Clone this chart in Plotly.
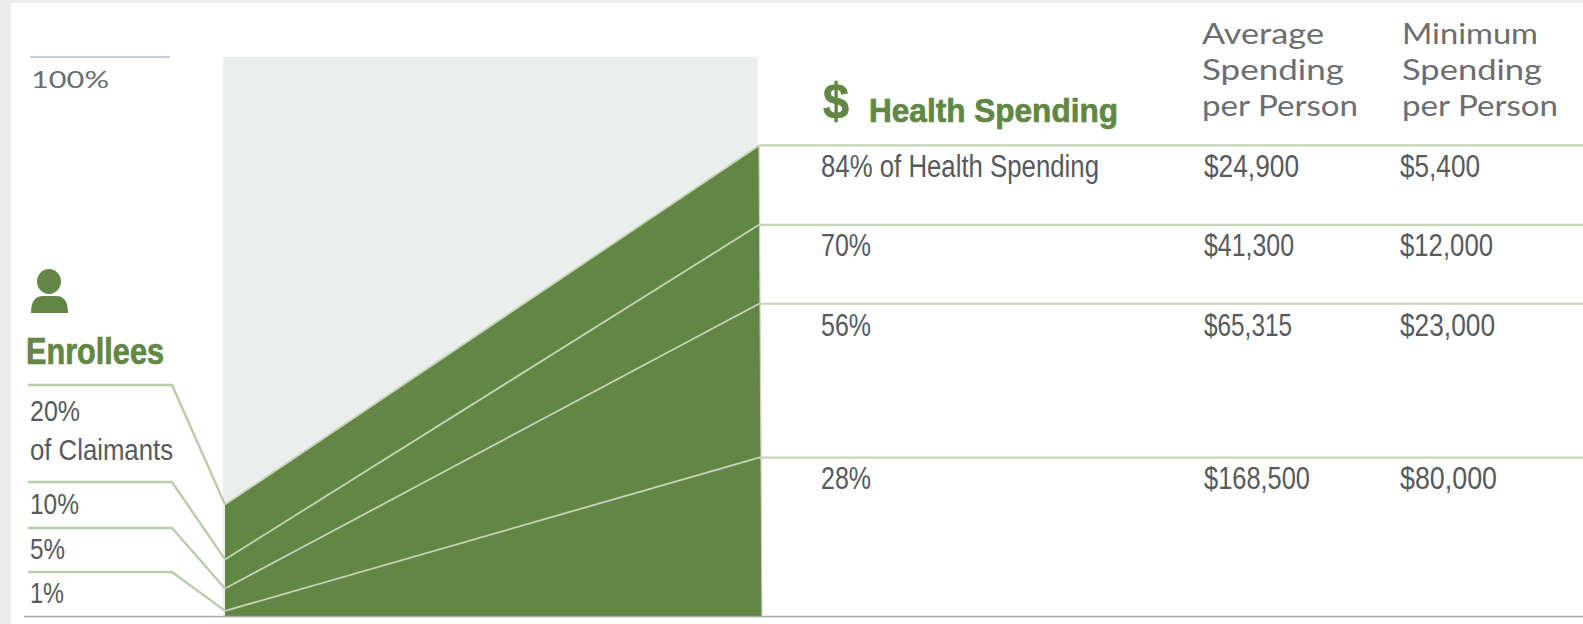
import json
import plotly.graph_objects as go

W, H = 1583, 624
enrollee_pct = [1, 5, 10.2, 20]
spending_pct = [28.4, 55.9, 70, 84.2]
row_labels = ["28%", "56%", "70%", "84% of Health Spending"]
avg_spending = ["$168,500", "$65,315", "$41,300", "$24,900"]
min_spending = ["$80,000", "$23,000", "$12,000", "$5,400"]
enrollee_labels = ["1%", "5%", "10%", "20%"]

Y0, Y100 = 616.5, 57.0
LEFT, RIGHT, RIGHT_B = 225, 759, 762
GREEN, LEAD, SEP, GREY_T, DARK = "#628744", "#b9cdaa", "#c6d4ba", "#6b6d70", "#58595b"
BODY = "Liberation Sans, sans-serif"
WIDE = "Lato, sans-serif"

def v(py):
    return (Y0 - py) / (Y0 - Y100) * 100

fig = go.Figure()
fig.add_trace(go.Scatter(x=[223, 758, 758, 223], y=[0, 0, 100, 100], fill="toself", mode="none",
                         fillcolor="#eceeee", hoverinfo="skip"))
fig.add_trace(go.Scatter(x=[LEFT, LEFT, RIGHT, RIGHT_B], y=[0, enrollee_pct[-1], spending_pct[-1], 0], fill="toself",
                         mode="none", fillcolor=GREEN, hoverinfo="skip"))
for e, s in zip(enrollee_pct, spending_pct):
    fig.add_trace(go.Scatter(x=[LEFT, RIGHT], y=[e, s], mode="lines", line=dict(color=SEP, width=1.8), hoverinfo="skip"))
    fig.add_trace(go.Scatter(x=[RIGHT, W], y=[s, s], mode="lines", line=dict(color=SEP, width=2.2), hoverinfo="skip"))
fig.add_trace(go.Scatter(x=[RIGHT, RIGHT_B], y=[spending_pct[-1], 0], mode="lines", line=dict(color=SEP, width=1.2), hoverinfo="skip"))
lead_y = [572, 528, 482, 385]
for e, ly in zip(enrollee_pct, lead_y):
    fig.add_trace(go.Scatter(x=[28, 172, LEFT], y=[v(ly), v(ly), e], mode="lines", line=dict(color=LEAD, width=2.4), hoverinfo="skip"))
fig.add_trace(go.Scatter(x=[24, W], y=[0, 0], mode="lines", line=dict(color="#a6a8a8", width=1.6), hoverinfo="skip"))
fig.add_trace(go.Scatter(x=[30, 170], y=[100, 100], mode="lines", line=dict(color="#b4b9d0", width=1.5), hoverinfo="skip"))

text_widths = []
heavy = []
def txt(x, py, s, font, size, color, w, bold=False):
    text_widths.append(w)
    heavy.append(bold)
    fig.add_annotation(x=x / W, y=1 - py / H, xref="paper", yref="paper", text=s, showarrow=False,
                       xanchor="left", yanchor="middle",
                       font=dict(family=font, size=size, color=color, weight="bold" if bold else "normal"))

txt(29, 79, "100%", WIDE, 23, GREY_T, 78)
txt(24, 351, "Enrollees", BODY, 36, GREEN, 138, True)
txt(28, 410, "20%", BODY, 30, DARK, 50)
txt(28, 449, "of Claimants", BODY, 30, DARK, 143)
for s, py, w in zip(enrollee_labels[:3], [592, 548, 503], [34, 35, 49]):
    txt(28, py, s, BODY, 30, DARK, w)
txt(821, 101, "$", BODY, 50, GREEN, 26, True)
txt(867, 110, "Health Spending", BODY, 34, GREEN, 249, True)
for xh, lines, ws in ((1200, ["Average", "Spending", "per Person"], [122, 142, 156]),
                      (1400, ["Minimum", "Spending", "per Person"], [136, 140, 156])):
    for l, py, w in zip(lines, [33, 69, 105], ws):
        txt(xh, py, l, WIDE, 28, GREY_T, w)
for s, a, m, py, w0, w1, w2 in zip(row_labels, avg_spending, min_spending, [478, 325, 246, 167],
                                    [50, 50, 50, 278], [106, 88, 90, 95], [97, 95, 93, 80]):
    txt(819, py, s, BODY, 31, DARK, w0)
    txt(1202, py, a, BODY, 31, DARK, w1)
    txt(1398, py, m, BODY, 31, DARK, w2)

shapes = [
    dict(type="rect", xref="paper", yref="paper", x0=0, x1=1, y0=1 - 3 / H, y1=1, fillcolor="#ececec", line_width=0, layer="below"),
    dict(type="rect", xref="paper", yref="paper", x0=0, x1=11 / W, y0=0, y1=1, fillcolor="#ececec", line_width=0, layer="below"),
    dict(type="circle", xref="paper", yref="paper", x0=37 / W, x1=61 / W, y0=1 - 294 / H, y1=1 - 269 / H, fillcolor=GREEN, line_width=0),
    dict(type="path", xref="paper", yref="paper",
         path=f"M {31/W} {1-313/H} C {31/W} {1-300/H} {36/W} {1-296/H} {43/W} {1-296/H} L {56/W} {1-296/H} "
              f"C {63/W} {1-296/H} {68/W} {1-300/H} {68/W} {1-313/H} Z", fillcolor=GREEN, line_width=0),
]
fig.update_layout(width=W, height=H, margin=dict(l=0, r=0, t=0, b=0), paper_bgcolor="white", plot_bgcolor="rgba(0,0,0,0)",
                  showlegend=False, shapes=shapes,
                  xaxis=dict(range=[0, W], visible=False, fixedrange=True),
                  yaxis=dict(range=[v(H), v(0)], visible=False, fixedrange=True))
post = """document.body.style.margin='0';
var ws=%s, hv=%s;
document.querySelectorAll('.annotation-text').forEach(function(t,i){
  var b=t.getBBox();
  t.setAttribute('x',b.x);t.style.textAnchor='start';
  t.setAttribute('textLength',ws[i]);t.setAttribute('lengthAdjust','spacingAndGlyphs');
  if(hv[i]){t.style.stroke='%s';t.style.strokeWidth='0.7px';}
});""" % (json.dumps(text_widths), json.dumps(heavy), GREEN)
fig.write_html("out.html", config=dict(displayModeBar=False), post_script=post)
